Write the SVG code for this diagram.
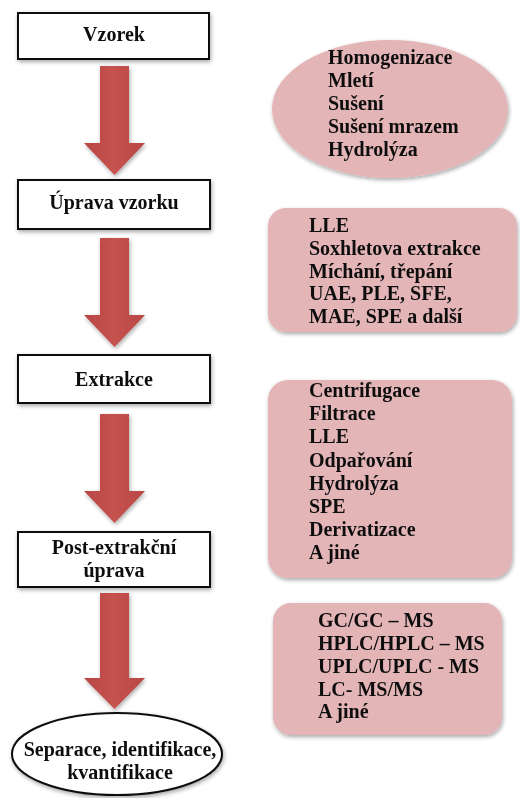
<svg xmlns="http://www.w3.org/2000/svg" width="520" height="798" viewBox="0 0 520 798">
<defs>
<filter id="sh" x="-10%" y="-10%" width="125%" height="130%">
<feGaussianBlur in="SourceAlpha" stdDeviation="2"/>
<feOffset dx="1" dy="2" result="b"/>
<feComponentTransfer><feFuncA type="linear" slope="0.35"/></feComponentTransfer>
<feMerge><feMergeNode/><feMergeNode in="SourceGraphic"/></feMerge>
</filter>
<linearGradient id="ag" x1="0" y1="0" x2="1" y2="0">
<stop offset="0" stop-color="#b84744"/>
<stop offset="0.5" stop-color="#c6524f"/>
<stop offset="1" stop-color="#b84744"/>
</linearGradient>
<path id="arrow" d="M16,0 H45 V77 H61 L30.5,109 L0,77 H16 Z"/>
</defs>
<style>
text{font-family:"Liberation Serif","Times New Roman",serif;font-weight:bold;font-size:20px;fill:#111;}
.c{text-anchor:middle;}
.box{fill:#fff;stroke:#111;stroke-width:2;}
.pink{fill:#e4b5b7;}
.arr{fill:url(#ag);}
</style>
<rect width="520" height="798" fill="#fff"/>
<g id="connectors" filter="url(#sh)">
<use href="#arrow" class="arr" x="84" y="66"/>
<use href="#arrow" class="arr" x="84" y="238"/>
<use href="#arrow" class="arr" x="84" y="414"/>
<path class="arr" d="M100,593 H129 V678 H145 L114.5,709 L84,678 H100 Z"/>
</g>
<g id="vzorek" filter="url(#sh)">
<rect class="box" x="18" y="13" width="191" height="46"/>
<text class="c" x="114" y="41">Vzorek</text>
</g>
<g id="uprava" filter="url(#sh)">
<rect class="box" x="18" y="180" width="192" height="49"/>
<text class="c" x="114" y="209">Úprava vzorku</text>
</g>
<g id="extrakce" filter="url(#sh)">
<rect class="box" x="18" y="355" width="192" height="48"/>
<text class="c" x="114" y="386">Extrakce</text>
</g>
<g id="post" filter="url(#sh)">
<rect class="box" x="18" y="532" width="192" height="55"/>
<text class="c" x="114" y="554">Post-extrakční</text>
<text class="c" x="114" y="577">úprava</text>
</g>
<g id="separace" filter="url(#sh)">
<ellipse class="box" cx="117" cy="754" rx="105" ry="41"/>
<text class="c" x="120" y="756">Separace, identifikace,</text>
<text class="c" x="120" y="779">kvantifikace</text>
</g>
<g id="uprava-methods" filter="url(#sh)">
<ellipse class="pink" cx="390" cy="109" rx="118" ry="69"/>
<text x="328" y="64">Homogenizace</text>
<text x="328" y="87">Mletí</text>
<text x="328" y="110">Sušení</text>
<text x="328" y="133">Sušení mrazem</text>
<text x="328" y="156">Hydrolýza</text>
</g>
<g id="extrakce-methods" filter="url(#sh)">
<rect class="pink" x="268" y="208" width="249" height="124" rx="18"/>
<text x="309" y="232">LLE</text>
<text x="309" y="255">Soxhletova extrakce</text>
<text x="309" y="278">Míchání, třepání</text>
<text x="309" y="300">UAE, PLE, SFE,</text>
<text x="309" y="323">MAE, SPE a další</text>
</g>
<g id="post-methods" filter="url(#sh)">
<rect class="pink" x="268" y="380" width="244" height="198" rx="20"/>
<text x="309" y="397">Centrifugace</text>
<text x="309" y="420">Filtrace</text>
<text x="309" y="443">LLE</text>
<text x="309" y="467">Odpařování</text>
<text x="309" y="490">Hydrolýza</text>
<text x="309" y="513">SPE</text>
<text x="309" y="536">Derivatizace</text>
<text x="309" y="559">A jiné</text>
</g>
<g id="separace-methods" filter="url(#sh)">
<rect class="pink" x="273" y="603" width="229" height="132" rx="18"/>
<text x="318" y="627">GC/GC  – MS</text>
<text x="318" y="650">HPLC/HPLC  – MS</text>
<text x="318" y="673">UPLC/UPLC - MS</text>
<text x="318" y="696">LC- MS/MS</text>
<text x="318" y="718">A jiné</text>
</g>
</svg>
